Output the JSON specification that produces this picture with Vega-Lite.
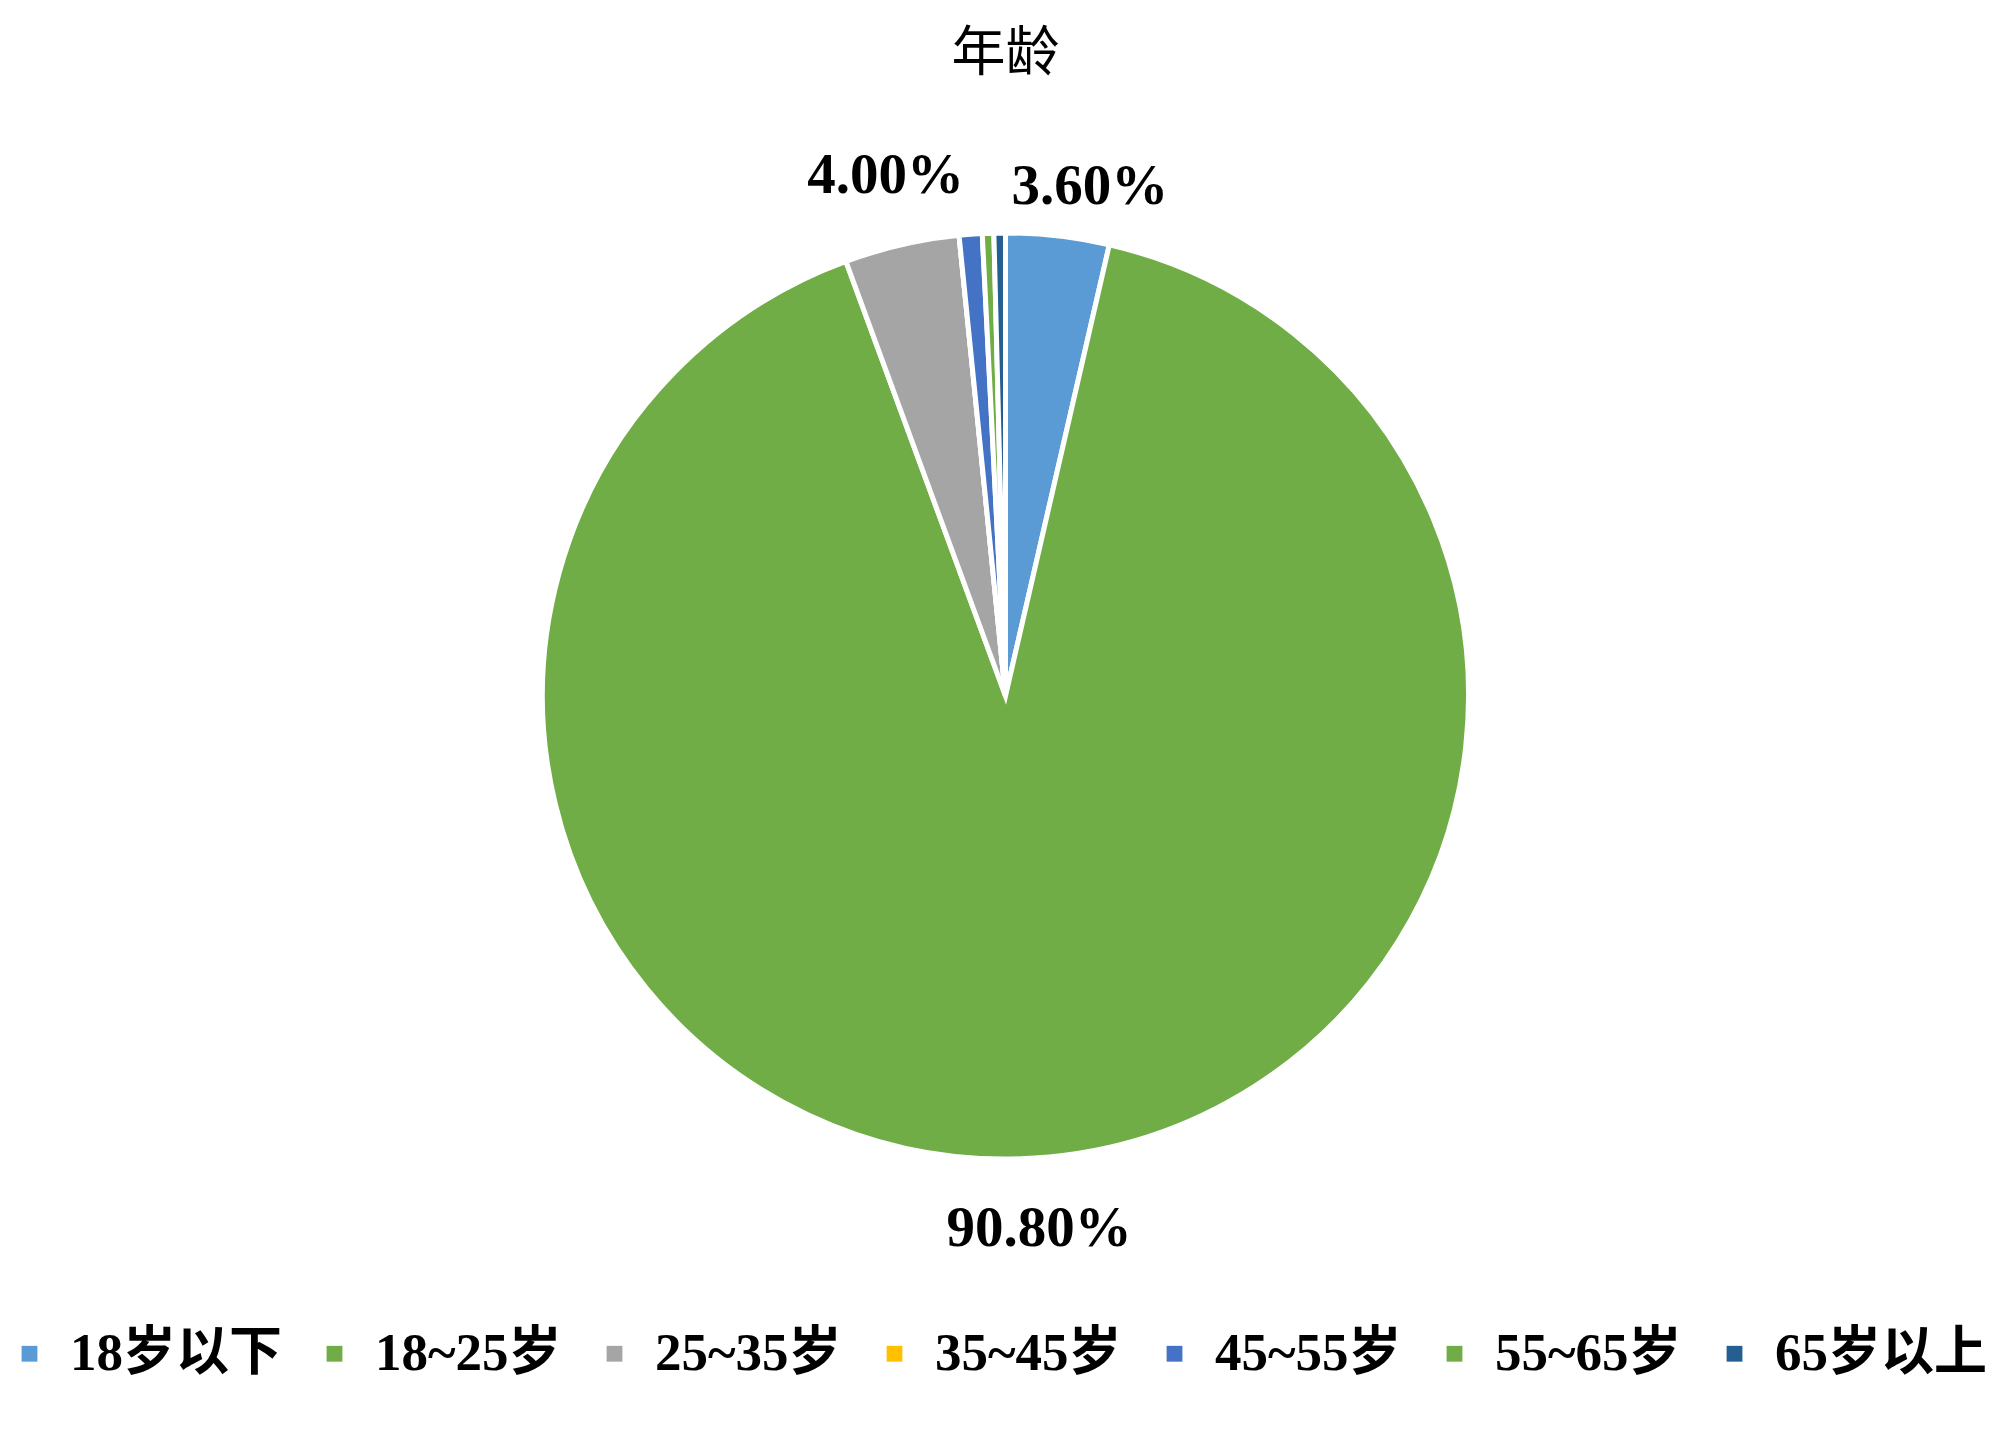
{
  "$schema": "https://vega.github.io/schema/vega-lite/v6.json",
  "width": 2000,
  "height": 1434,
  "autosize": {"type": "fit", "contains": "padding"},
  "padding": {"top": 28, "bottom": 53, "left": 3, "right": -8},
  "background": "white",
  "title": {
    "text": "年龄",
    "font": "Noto Sans CJK SC",
    "fontSize": 54,
    "fontWeight": "normal",
    "color": "#000000",
    "anchor": "middle",
    "offset": 8
  },
  "data": {
    "values": [
      {"group": "18岁以下", "value": 3.6, "label": "3.60%", "k": 1},
      {"group": "18~25岁", "value": 90.8, "label": "90.80%", "k": 2},
      {"group": "25~35岁", "value": 4.0, "label": "4.00%", "k": 3},
      {"group": "35~45岁", "value": 0.0, "label": "", "k": 4},
      {"group": "45~55岁", "value": 0.8, "label": "", "k": 5},
      {"group": "55~65岁", "value": 0.4, "label": "", "k": 6},
      {"group": "65岁以上", "value": 0.4, "label": "", "k": 7}
    ]
  },
  "encoding": {
    "theta": {"field": "value", "type": "quantitative", "stack": true},
    "order": {"field": "k", "type": "quantitative"}
  },
  "layer": [
    {
      "mark": {"type": "arc", "outerRadius": 463, "stroke": "white", "strokeWidth": 5},
      "encoding": {
        "color": {
          "field": "group",
          "type": "nominal",
          "sort": ["18岁以下", "18~25岁", "25~35岁", "35~45岁", "45~55岁", "55~65岁", "65岁以上"],
          "scale": {
            "domain": ["18岁以下", "18~25岁", "25~35岁", "35~45岁", "45~55岁", "55~65岁", "65岁以上"],
            "range": ["#5B9BD5", "#70AD47", "#A5A5A5", "#FFC000", "#4472C4", "#70AD47", "#255E91"]
          },
          "legend": {
            "title": null,
            "orient": "bottom",
            "direction": "horizontal",
            "columns": 7,
            "symbolType": "square",
            "symbolSize": 250,
            "symbolStrokeWidth": 0,
            "labelFont": "Liberation Serif, Noto Sans CJK SC",
            "labelFontWeight": "bold",
            "labelFontSize": 53,
            "labelColor": "#000000",
            "labelLimit": 400,
            "labelOffset": 14,
            "columnPadding": 26,
            "offset": 25
          }
        }
      }
    },
    {
      "mark": {
        "type": "text",
        "radius": 534,
        "font": "Liberation Serif",
        "fontWeight": "bold",
        "fontSize": 57,
        "color": "#000000",
        "align": "center",
        "baseline": "middle"
      },
      "encoding": {
        "text": {
          "condition": {"test": "datum.label === '3.60%'", "value": ""},
          "field": "label",
          "type": "nominal"
        }
      }
    },
    {
      "mark": {
        "type": "text",
        "radius": 534,
        "dx": 24,
        "dy": 22,
        "font": "Liberation Serif",
        "fontWeight": "bold",
        "fontSize": 57,
        "color": "#000000",
        "align": "center",
        "baseline": "middle"
      },
      "encoding": {
        "text": {
          "condition": {"test": "datum.label !== '3.60%'", "value": ""},
          "field": "label",
          "type": "nominal"
        }
      }
    }
  ],
  "config": {"view": {"stroke": null}}
}
